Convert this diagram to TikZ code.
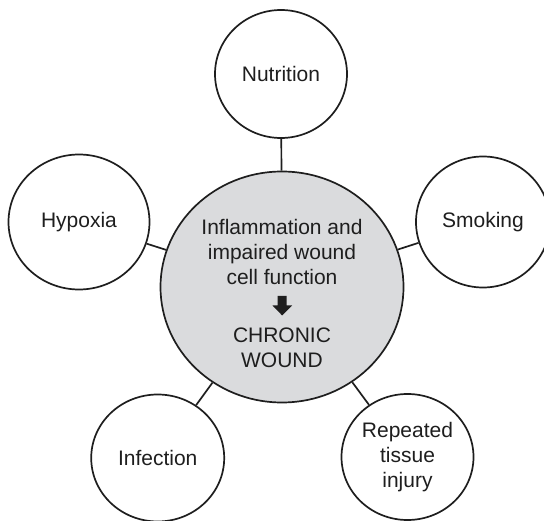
\documentclass[tikz,border=0pt]{standalone}
\usepackage{fontspec}
\setmainfont{Liberation Sans}
\usetikzlibrary{shapes.geometric}
\definecolor{hubgray}{RGB}{218,219,221}
\definecolor{ink}{RGB}{30,30,30}
\begin{document}
\begin{tikzpicture}[x=1pt,y=-1pt,
  bubble/.style={ellipse,draw=ink,line width=1.7pt,inner sep=0pt,align=center,
    font=\fontsize{21}{25}\selectfont,text=ink},
  link/.style={draw=ink,line width=1.7pt}]
\useasboundingbox (0,0) rectangle (544,521);
\node[bubble,fill=hubgray,minimum width=243pt,minimum height=231pt] (hub) at (282,287) {};
\node[align=center,font=\fontsize{21}{25}\selectfont,text=ink] (t1) at (282,252) {Inflammation and\\impaired wound\\cell function};
\node[align=center,font=\fontsize{21}{25}\selectfont,text=ink] (t2) at (282,347.5) {CHRONIC\\WOUND};
\fill[ink] (277.7,296) -- (286.7,296) -- (286.7,305.5) -- (292,305.5) -- (282.2,315.5) -- (272.5,305.5) -- (277.7,305.5) -- cycle;
\node[bubble,minimum width=132pt,minimum height=128pt] (nut) at (281,74) {Nutrition};
\node[bubble,minimum width=134pt,minimum height=131pt] (smo) at (483,222) {Smoking};
\node[bubble,minimum width=141pt,minimum height=135pt] (hyp) at (79,222) {Hypoxia};
\node[bubble,minimum width=133pt,minimum height=127pt] (inf) at (157.7,458) {Infection};
\node[bubble,minimum width=132pt,minimum height=126pt] (rep) at (407.5,457) {Repeated\\tissue\\injury};
\draw[link] (hub) -- (nut);
\draw[link] (hub) -- (smo);
\draw[link] (hub) -- (hyp);
\draw[link] (hub) -- (inf);
\draw[link] (hub) -- (rep);
\end{tikzpicture}
\end{document}
